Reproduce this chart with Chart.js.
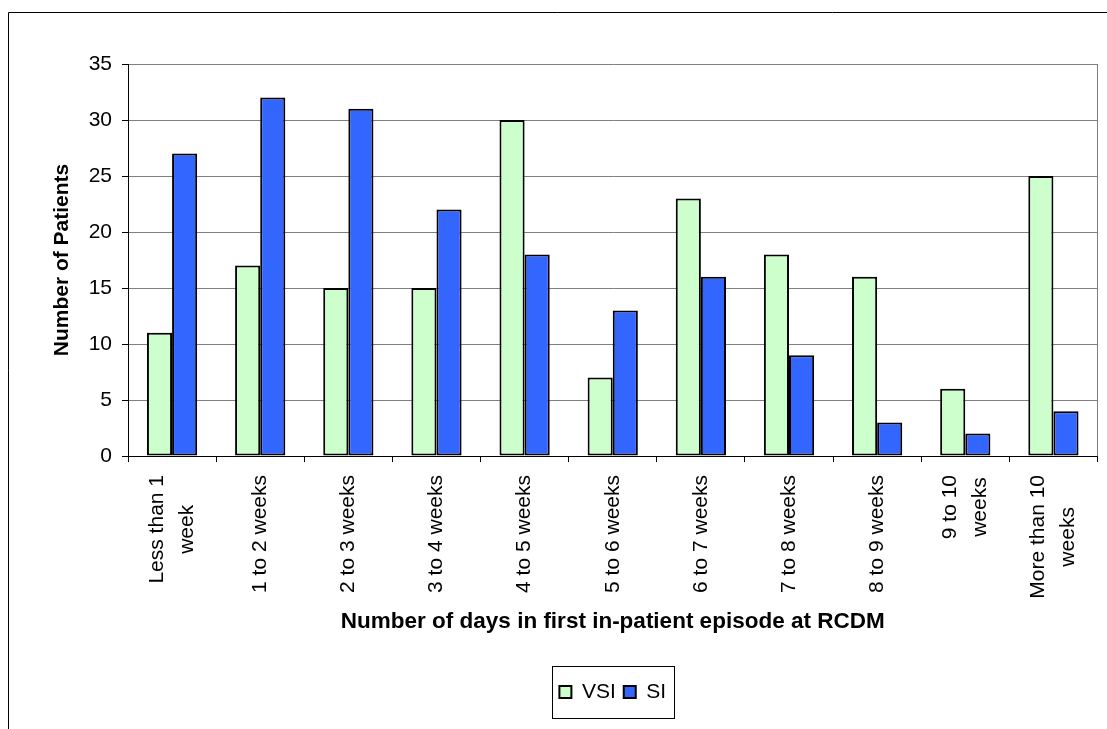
<!DOCTYPE html>
<html>
<head>
<meta charset="utf-8">
<title>Length of first in-patient episode</title>
<script src="https://cdn.jsdelivr.net/npm/chart.js@4.4.0/dist/chart.umd.min.js"></script>
<style>
  html, body { margin: 0; padding: 0; background: #ffffff; }
  canvas { display: block; }
</style>
</head>
<body>
<canvas id="stayChart" width="1107" height="729"></canvas>
<script>
// Length-of-stay bands (multi-line labels are wrapped as in the printed chart)
const categories = [
  ['Less than 1', 'week'],
  ['1 to 2 weeks'],
  ['2 to 3 weeks'],
  ['3 to 4 weeks'],
  ['4 to 5 weeks'],
  ['5 to 6 weeks'],
  ['6 to 7 weeks'],
  ['7 to 8 weeks'],
  ['8 to 9 weeks'],
  ['9 to 10', 'weeks'],
  ['More than 10', 'weeks']
];

// Patients per band
const vsiPatients = [11, 17, 15, 15, 30, 7, 23, 18, 16, 6, 25];
const siPatients  = [27, 32, 31, 22, 18, 13, 16, 9, 3, 2, 4];

const seriesNames = ['VSI', 'SI'];
const yTicks = [0, 5, 10, 15, 20, 25, 30, 35];
const xAxisTitle = 'Number of days in first in-patient episode at RCDM';
const yAxisTitle = 'Number of Patients';

const FONT = '"Liberation Sans", Arial, Helvetica, sans-serif';
Chart.defaults.font.family = FONT;
Chart.defaults.color = '#000000';

// Outer frame of the figure
const framePlugin = {
  id: 'figureFrame',
  beforeDraw(chart) {
    const ctx = chart.ctx;
    ctx.save();
    ctx.fillStyle = '#ffffff';
    ctx.fillRect(0, 0, chart.width, chart.height);
    ctx.strokeStyle = '#000000';
    ctx.lineWidth = 1;
    ctx.beginPath();
    ctx.moveTo(8.5, chart.height);
    ctx.lineTo(8.5, 12.5);
    ctx.lineTo(chart.width, 12.5);
    ctx.stroke();
    ctx.restore();
  }
};

// Category labels, rotated, with wrapped lines centred on each other
const categoryLabelPlugin = {
  id: 'categoryLabels',
  afterDraw(chart) {
    const scale = chart.scales.x;
    const ctx = chart.ctx;
    const lineGap = 30;
    ctx.save();
    ctx.font = '21px ' + FONT;
    ctx.fillStyle = '#000000';
    ctx.textAlign = 'right';
    ctx.textBaseline = 'middle';
    categories.forEach((lines, i) => {
      const x = scale.getPixelForTick(i);
      const y = scale.top + 19;
      const widths = lines.map(l => ctx.measureText(l).width);
      const maxW = Math.max(...widths);
      ctx.save();
      ctx.translate(x, y);
      ctx.rotate(-Math.PI / 2);
      lines.forEach((line, j) => {
        const across = (j - (lines.length - 1) / 2) * lineGap;
        ctx.fillText(line, -(maxW - widths[j]) / 2, across);
      });
      ctx.restore();
    });
    ctx.restore();
  }
};

// Box around the legend entries
const legendFramePlugin = {
  id: 'legendFrame',
  afterDraw(chart) {
    const boxes = chart.legend && chart.legend.legendHitBoxes;
    if (!boxes || !boxes.length) return;
    const left = Math.min(...boxes.map(b => b.left));
    const right = Math.max(...boxes.map(b => b.left + b.width));
    const top = Math.min(...boxes.map(b => b.top));
    const bottom = Math.max(...boxes.map(b => b.top + b.height));
    const ctx = chart.ctx;
    ctx.save();
    ctx.strokeStyle = '#000000';
    ctx.lineWidth = 1;
    ctx.strokeRect(Math.round(left - 7) + 0.5, Math.round(top - 16) + 0.5,
                   Math.round(right - left + 15), Math.round(bottom - top + 31));
    ctx.restore();
  }
};

new Chart(document.getElementById('stayChart'), {
  type: 'bar',
  data: {
    labels: categories,
    datasets: [
      {
        label: seriesNames[0],
        data: vsiPatients,
        backgroundColor: '#CCFFCC',
        borderColor: '#000000',
        borderWidth: 2,
        borderSkipped: false
      },
      {
        label: seriesNames[1],
        data: siPatients,
        backgroundColor: '#3366FF',
        borderColor: '#000000',
        borderWidth: 2,
        borderSkipped: false
      }
    ]
  },
  options: {
    responsive: false,
    animation: false,
    devicePixelRatio: 1,
    layout: { padding: { left: 0, top: 64, right: 4, bottom: 16.5 } },
    datasets: {
      bar: { categoryPercentage: 0.57, barPercentage: 1.0 }
    },
    scales: {
      x: {
        offset: true,
        afterFit(scale) { scale.height = 217.5; },
        grid: {
          offset: true,
          drawOnChartArea: true,
          drawTicks: true,
          tickLength: 6,
          tickColor: '#000000',
          color: ctx => (ctx.type === 'scale' ? '#808080' : 'rgba(0,0,0,0)'),
          lineWidth: 1
        },
        border: { display: true, color: '#000000', width: 1 },
        ticks: {
          autoSkip: false,
          minRotation: 90,
          maxRotation: 90,
          color: 'rgba(0,0,0,0)',
          font: { size: 21 }
        },
        title: {
          display: true,
          text: xAxisTitle,
          color: '#000000',
          font: { size: 22.5, weight: 'bold' },
          padding: { top: 0, bottom: 38 }
        }
      },
      y: {
        min: yTicks[0],
        max: yTicks[yTicks.length - 1],
        afterFit(scale) { scale.width = 128; },
        ticks: {
          stepSize: yTicks[1] - yTicks[0],
          padding: 10,
          color: '#000000',
          font: { size: 21 }
        },
        grid: {
          drawTicks: true,
          tickLength: 6,
          tickColor: '#000000',
          color: ctx => (ctx.tick && ctx.tick.value === 0 ? '#000000' : '#808080'),
          lineWidth: 1
        },
        border: { display: true, color: '#000000', width: 1 },
        title: {
          display: true,
          text: yAxisTitle,
          color: '#000000',
          font: { size: 21, weight: 'bold' },
          padding: { top: 49.4, bottom: 0 }
        }
      }
    },
    plugins: {
      legend: {
        display: true,
        position: 'bottom',
        fullSize: false,
        labels: {
          boxWidth: 12,
          boxHeight: 12,
          padding: 8,
          color: '#000000',
          font: { size: 21 }
        }
      },
      tooltip: { enabled: false }
    }
  },
  plugins: [framePlugin, categoryLabelPlugin, legendFramePlugin]
});
</script>
</body>
</html>
